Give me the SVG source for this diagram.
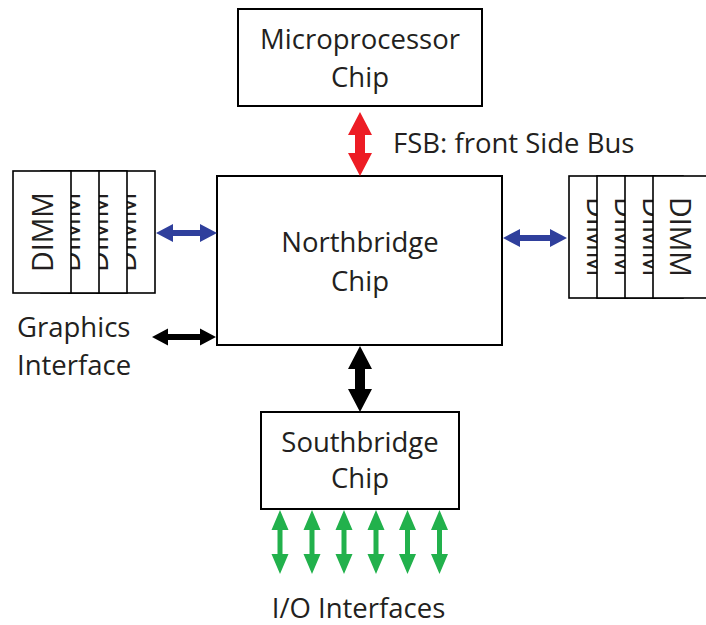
<svg xmlns="http://www.w3.org/2000/svg" xmlns:xlink="http://www.w3.org/1999/xlink" width="706" height="625" viewBox="0 0 706 625">
<style>
  .box { fill: #ffffff; stroke: #000000; stroke-width: 2; }
  .dimm { fill: #ffffff; stroke: #000000; stroke-width: 1.6; }
  .t { font-family: "Open Sans", "Noto Sans", sans-serif; font-size: 27.5px; fill: #231f20; }
  .c { text-anchor: middle; }
  .dt { font-family: "Open Sans", "Noto Sans", sans-serif; font-size: 28.5px; fill: #231f20; text-anchor: middle; }
  .red { fill: #ed1c24; }
  .blk { fill: #000000; }
  .blue { fill: #2f3f9c; }
  .green { fill: #22b14c; }
</style>
<defs>
  <polygon id="garrow" points="0,0 8.5,20 2.5,20 2.5,44 8.5,44 0,64 -8.5,44 -2.5,44 -2.5,20 -8.5,20"/>
</defs>

<g id="microprocessor">
  <rect class="box" x="238" y="9" width="244" height="97"/>
  <text class="t c" x="360" y="49">Microprocessor</text>
  <text class="t c" x="360" y="87">Chip</text>
</g>

<g id="northbridge">
  <rect class="box" x="217" y="176" width="285" height="169"/>
  <text class="t c" x="360" y="252">Northbridge</text>
  <text class="t c" x="360" y="291">Chip</text>
</g>

<g id="southbridge">
  <rect class="box" x="261" y="412" width="198" height="97"/>
  <text class="t c" x="360" y="452">Southbridge</text>
  <text class="t c" x="360" y="488">Chip</text>
</g>

<g id="dimm-left">
  <rect class="dimm" x="97" y="171" width="58" height="122"/>
  <text class="dt" transform="translate(136,232) rotate(-90)">DIMM</text>
  <rect class="dimm" x="69" y="171" width="58" height="122"/>
  <text class="dt" transform="translate(108,232) rotate(-90)">DIMM</text>
  <rect class="dimm" x="41" y="171" width="58" height="122"/>
  <text class="dt" transform="translate(80,232) rotate(-90)">DIMM</text>
  <rect class="dimm" x="13" y="171" width="58" height="122"/>
  <text class="dt" transform="translate(53,232) rotate(-90)">DIMM</text>
</g>

<g id="dimm-right">
  <rect class="dimm" x="569" y="176" width="58" height="122"/>
  <text class="dt" transform="translate(587,237) rotate(90)">DIMM</text>
  <rect class="dimm" x="597" y="176" width="58" height="122"/>
  <text class="dt" transform="translate(615,237) rotate(90)">DIMM</text>
  <rect class="dimm" x="625" y="176" width="58" height="122"/>
  <text class="dt" transform="translate(643,237) rotate(90)">DIMM</text>
  <rect class="dimm" x="653" y="176" width="58" height="122"/>
  <text class="dt" transform="translate(670,237) rotate(90)">DIMM</text>
</g>

<g id="labels">
  <text class="t" x="393" y="153">FSB: front Side Bus</text>
  <text class="t" x="17" y="337">Graphics</text>
  <text class="t" x="17" y="375">Interface</text>
  <text class="t c" x="358.5" y="618">I/O Interfaces</text>
</g>

<g id="connectors">
  <polygon class="red" points="360,112 372,135 365,135 365,153 372,153 360,176 348,153 355,153 355,135 348,135"/>
  <polygon class="blk" points="360,346 372,369 365,369 365,389 372,389 360,412 348,389 355,389 355,369 348,369"/>
  <polygon class="blue" points="156,233 173,224 173,230 200,230 200,224 217,233 200,242 200,236 173,236 173,242"/>
  <polygon class="blue" points="503,238 520,229 520,235 550,235 550,229 567,238 550,247 550,241 520,241 520,247"/>
  <polygon class="blk" points="152,337 168,328.5 168,334 200,334 200,328.5 216,337 200,345.5 200,340 168,340 168,345.5"/>
  <use class="green" xlink:href="#garrow" href="#garrow" x="280" y="510"/>
  <use class="green" xlink:href="#garrow" href="#garrow" x="312" y="510"/>
  <use class="green" xlink:href="#garrow" href="#garrow" x="344" y="510"/>
  <use class="green" xlink:href="#garrow" href="#garrow" x="376" y="510"/>
  <use class="green" xlink:href="#garrow" href="#garrow" x="407.5" y="510"/>
  <use class="green" xlink:href="#garrow" href="#garrow" x="439.5" y="510"/>
</g>
</svg>
